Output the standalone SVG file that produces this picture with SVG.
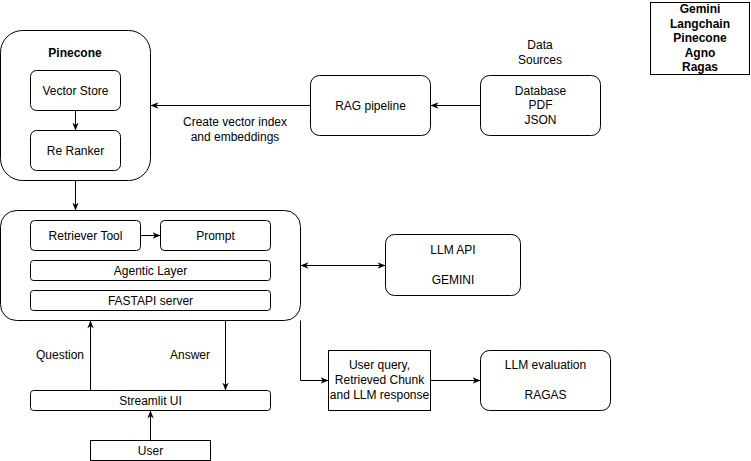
<svg xmlns="http://www.w3.org/2000/svg" width="751" height="461" viewBox="0 0 751 461">
<defs>
<marker id="arr" viewBox="0 0 10 10" refX="10" refY="5" markerWidth="8" markerHeight="8" markerUnits="userSpaceOnUse" orient="auto-start-reverse">
<path d="M0,1 L10,5 L0,9 L3,5 z" fill="#000"/>
</marker>
</defs>
<style>
.box{fill:#fff;stroke:#000;stroke-width:1}
.t{font-family:"Liberation Sans",Arial,sans-serif;font-size:12px;fill:#000;text-anchor:middle}
.b{font-weight:bold}
.c{fill:none;stroke:#000;stroke-width:1;marker-end:url(#arr)}
</style>
<rect width="751" height="461" fill="#fff"/>
<g id="pinecone">
<rect class="box" x="0.5" y="30.5" width="150" height="150" rx="22"/>
<text class="t b" x="75" y="57">Pinecone</text>
</g>
<g id="vector-store">
<rect class="box" x="30.5" y="70.5" width="90" height="40" rx="6"/>
<text class="t" x="75.5" y="94.5">Vector Store</text>
</g>
<g id="re-ranker">
<rect class="box" x="30.5" y="130.5" width="90" height="40" rx="6"/>
<text class="t" x="75.5" y="154.5">Re Ranker</text>
</g>
<g id="agent-container">
<rect class="box" x="0.5" y="210.5" width="300" height="110" rx="16"/>
</g>
<g id="retriever-tool">
<rect class="box" x="30.5" y="220.5" width="110" height="30" rx="4"/>
<text class="t" x="85.5" y="239.5">Retriever Tool</text>
</g>
<g id="prompt">
<rect class="box" x="160.5" y="220.5" width="110" height="30" rx="4"/>
<text class="t" x="215.5" y="239.5">Prompt</text>
</g>
<g id="agentic-layer">
<rect class="box" x="30.5" y="260.5" width="240" height="20" rx="3"/>
<text class="t" x="150.5" y="274.5">Agentic Layer</text>
</g>
<g id="fastapi">
<rect class="box" x="30.5" y="290.5" width="240" height="20" rx="3"/>
<text class="t" x="150.5" y="304.5">FASTAPI server</text>
</g>
<g id="rag-pipeline">
<rect class="box" x="310.5" y="75.5" width="120" height="60" rx="9"/>
<text class="t" x="370.5" y="109.5">RAG pipeline</text>
</g>
<g id="data-sources">
<text class="t" x="540" y="49">Data</text>
<text class="t" x="540" y="64">Sources</text>
<rect class="box" x="480.5" y="75.5" width="120" height="60" rx="9"/>
<text class="t" x="540.5" y="94.5">Database</text>
<text class="t" x="540.5" y="109">PDF</text>
<text class="t" x="540.5" y="123.5">JSON</text>
</g>
<g id="llm-api">
<rect class="box" x="385.5" y="234.5" width="135" height="61" rx="9"/>
<text class="t" x="453" y="254">LLM API</text>
<text class="t" x="453" y="284">GEMINI</text>
</g>
<g id="user-query">
<rect class="box" x="328.5" y="350.5" width="102" height="60"/>
<text class="t" x="379.5" y="369">User query,</text>
<text class="t" x="379.5" y="384">Retrieved Chunk</text>
<text class="t" x="379.5" y="399">and LLM response</text>
</g>
<g id="llm-evaluation">
<rect class="box" x="480.5" y="350.5" width="130" height="60" rx="9"/>
<text class="t" x="545.5" y="369">LLM evaluation</text>
<text class="t" x="545.5" y="399">RAGAS</text>
</g>
<g id="streamlit">
<rect class="box" x="30.5" y="390.5" width="240" height="20" rx="3"/>
<text class="t" x="150.5" y="404.5">Streamlit UI</text>
</g>
<g id="user">
<rect class="box" x="90.5" y="440.5" width="120" height="20"/>
<text class="t" x="150.5" y="454.5">User</text>
</g>
<g id="legend">
<rect class="box" x="650.5" y="2.5" width="99" height="72"/>
<text class="t b" x="700" y="13">Gemini</text>
<text class="t b" x="700" y="27.5">Langchain</text>
<text class="t b" x="700" y="42">Pinecone</text>
<text class="t b" x="700" y="56.5">Agno</text>
<text class="t b" x="700" y="71">Ragas</text>
</g>
<g id="connectors">
<line class="c" x1="75.5" y1="110.5" x2="75.5" y2="130.5"/>
<line class="c" x1="75.5" y1="180.5" x2="75.5" y2="210.5"/>
<line class="c" x1="140.5" y1="235.5" x2="160.5" y2="235.5"/>
<line class="c" x1="310.5" y1="105.5" x2="150.5" y2="105.5"/>
<line class="c" x1="480.5" y1="105.5" x2="430.5" y2="105.5"/>
<line class="c" x1="300.5" y1="265.5" x2="385.5" y2="265.5" style="marker-start:url(#arr)"/>
<polyline class="c" points="300.5,320.5 300.5,380.5 328.5,380.5"/>
<line class="c" x1="430.5" y1="380.5" x2="480.5" y2="380.5"/>
<line class="c" x1="90.5" y1="390.5" x2="90.5" y2="320.5"/>
<line class="c" x1="225.5" y1="320.5" x2="225.5" y2="390.5"/>
<line class="c" x1="150.5" y1="440.5" x2="150.5" y2="410.5"/>
<text class="t" x="235" y="126">Create vector index</text>
<text class="t" x="235" y="141">and embeddings</text>
<text class="t" x="60" y="359">Question</text>
<text class="t" x="190" y="359">Answer</text>
</g>
</svg>
